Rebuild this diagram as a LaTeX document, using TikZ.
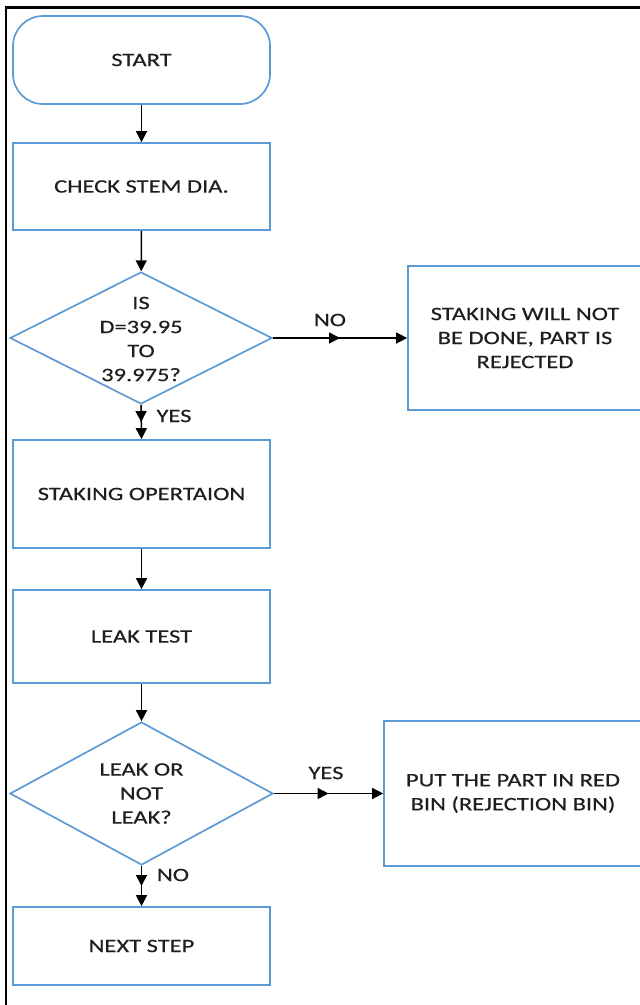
\documentclass[tikz,border=0pt]{standalone}
\usepackage{fontspec}
\setmainfont{Carlito}[FakeStretch=1.29,FakeBold=0.4]
\usetikzlibrary{arrows.meta,decorations.markings,shapes.geometric}
\definecolor{boxblue}{RGB}{91,155,213}
\definecolor{txtgray}{RGB}{30,30,30}
\begin{document}
\begin{tikzpicture}[x=1pt,y=-1pt,
  every node/.style={font=\fontsize{19}{24}\selectfont, text=txtgray},
  procbox/.style={draw=boxblue, line width=1.7pt, rectangle, inner sep=0pt, align=center},
  decision/.style={draw=boxblue, line width=1.7pt, diamond, inner sep=0pt},
  dtext/.style={align=center, inner sep=0pt},
  tip/.style={-{Triangle[length=11pt,width=11pt]}},
  conn/.style={draw=black, line width=1.5pt, tip},
  midconn/.style={conn, postaction={decorate},
    decoration={markings, mark=at position 0.5 with {\arrow{Triangle[length=11pt,width=11pt]}}}},
  lbl/.style={inner sep=0pt}]
\useasboundingbox (0,0) rectangle (640,1005);
\clip (0,0) rectangle (640,1005);
% frame
\coordinate (fbl) at (6,1005);
\coordinate (ftl) at (6,7.5);
\coordinate (ftr) at (640,7.5);
\draw[line width=2.6pt] (fbl) -- (ftl) -- (ftr);
% nodes
\node[procbox, rounded corners=30pt, minimum width=257pt, minimum height=88pt] (start) at (141.5,60) {START};
\node[procbox, minimum width=257pt, minimum height=87pt] (check) at (141.5,186.5) {CHECK STEM DIA.};
\node[decision, minimum width=262pt, minimum height=132pt] (d1) at (141,338) {};
\node[dtext] (d1t) at (141,339) {IS\\D=39.95\\TO\\39.975?};
\node[procbox, minimum width=234pt, minimum height=144pt] (rej) at (525,338) {STAKING WILL NOT\\BE DONE, PART IS\\REJECTED};
\node[procbox, minimum width=257pt, minimum height=108pt] (stake) at (141.5,494) {STAKING OPERTAION};
\node[procbox, minimum width=257pt, minimum height=93pt] (leak) at (141.5,636.5) {LEAK TEST};
\node[decision, minimum width=263pt, minimum height=143pt] (d2) at (141.5,793.5) {};
\node[dtext] (d2t) at (141.5,793.5) {LEAK OR\\NOT\\LEAK?};
\node[procbox, minimum width=258pt, minimum height=145pt] (bin) at (513,793.5) {PUT THE PART IN RED\\BIN (REJECTION BIN)};
\node[procbox, minimum width=257pt, minimum height=78pt] (next) at (141.5,946) {NEXT STEP};
% connectors
\draw[conn] (start) -- (check);
\draw[conn] (check) -- (d1);
\draw[midconn] (d1.east) -- (rej.west);
\draw[midconn] (d1.south) -- (stake.north);
\draw[conn] (stake) -- (leak);
\draw[conn] (leak) -- (d2);
\draw[midconn] (d2.east) -- (bin.west);
\draw[midconn] (d2.south) -- (next.north);
% labels
\node[lbl] (lno1) at (330,320) {NO};
\node[lbl] (lyes1) at (174,416) {YES};
\node[lbl] (lyes2) at (326,773) {YES};
\node[lbl] (lno2) at (173,875) {NO};
\end{tikzpicture}
\end{document}
